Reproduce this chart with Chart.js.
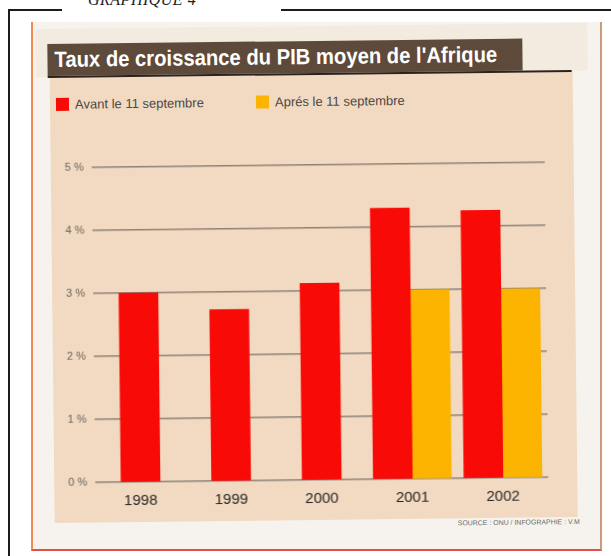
<!DOCTYPE html>
<html lang="fr">
<head>
<meta charset="utf-8">
<title>Taux de croissance du PIB moyen de l'Afrique</title>
<script src="https://cdn.jsdelivr.net/npm/chart.js@4/dist/chart.umd.min.js"></script>
<style>
  html, body { margin: 0; padding: 0; background: #ffffff; }
  body { width: 611px; height: 556px; position: relative; overflow: hidden; font-family: "Liberation Sans", Arial, sans-serif; }
  .frame-top { position: absolute; top: 9px; height: 2px; background: #1c1c1c; }
  .frame-left { position: absolute; left: 8px; top: 9px; width: 2px; height: 547px; background: #1c1c1c; }
  #kicker { position: absolute; left: 88px; top: -9px; font: italic 16px "Liberation Serif", serif; color: #222; letter-spacing: 0.5px; }
  #paper { position: absolute; left: 31px; top: 22px; width: 567px; height: 527px; background: #f6f3ee;
           border-left: 2px solid #ee8a52; border-right: 2px solid #c99c7c; border-bottom: 2px solid #e0504a; }
  #scan { position: absolute; left: 0; top: 0; width: 611px; height: 556px; transform: rotate(-0.65deg); transform-origin: 312px 280px; }
  #topband { position: absolute; left: 38px; top: 26px; width: 552px; height: 48px; background: #f3ebe0; }
  #panel { position: absolute; left: 52px; top: 74px; width: 523px; height: 446px; background: #f1dac1; }
  #titlebox { position: absolute; left: 50px; top: 41px; width: 475px; height: 32px; background: #5e4a3a; }
  #rule { position: absolute; left: 50px; top: 73px; width: 524px; height: 2px; background: #2a221e; }
  #title { position: absolute; left: 57px; top: 44px; color: #ffffff; font-weight: bold; font-size: 22px; white-space: nowrap; transform-origin: left center; }
  #legend { position: absolute; left: 58px; top: 94px; height: 16px; }
  .leg-item { position: absolute; top: 0; white-space: nowrap; font-size: 13px; color: #4e4844; line-height: 15px; }
  .leg-box { display: inline-block; width: 13px; height: 13px; vertical-align: -2px; margin-right: 6px; }
  #chartWrap { position: absolute; left: 52px; top: 130px; width: 523px; height: 390px; }
  #source { position: absolute; left: 455px; top: 521px; font-size: 7px; color: #6a6a6a; white-space: nowrap; transform-origin: left center; }
</style>
</head>
<body>
<div class="frame-top" style="left:8px; width:54px;"></div>
<div class="frame-top" style="left:281px; width:330px;"></div>
<div class="frame-left"></div>
<div id="kicker">GRAPHIQUE 4</div>
<div id="paper"></div>

<div id="scan">
  <div id="topband"></div>
  <div id="panel"></div>
  <div id="titlebox"></div>
  <div id="rule"></div>
  <div id="title">Taux de croissance du PIB moyen de l'Afrique</div>
  <div id="legend"></div>
  <div id="chartWrap"><canvas id="pibChart" width="523" height="390"></canvas></div>
  <div id="source">SOURCE : ONU / INFOGRAPHIE : V.M</div>
</div>

<script>
// growth rate, % per year
const years = ["1998", "1999", "2000", "2001", "2002"];
const beforeSept11 = [3.0, 2.72, 3.12, 4.3, 4.25];
const afterSept11 = [null, null, null, 3.0, 3.0];
const yTicks = [0, 1, 2, 3, 4, 5];

const seriesNames = ["Avant le 11 septembre", "Aprés le 11 septembre"];
const seriesColors = ["#f80a06", "#fcb400"];

const sans = "'Liberation Sans', Arial, sans-serif";

function fitWidth(el, target) {
    const w = el.getBoundingClientRect().width;
    if (w > 0) el.style.transform = "scaleX(" + (target / w) + ")";
}

document.addEventListener("DOMContentLoaded", () => {
    fitWidth(document.getElementById("title"), 443);
    fitWidth(document.getElementById("source"), 122);

    const ctx = document.getElementById("pibChart").getContext("2d");
    const chart = new Chart(ctx, {
        type: "bar",
        data: {
            labels: years,
            datasets: [
                { label: seriesNames[0], data: beforeSept11, backgroundColor: seriesColors[0] },
                { label: seriesNames[1], data: afterSept11, backgroundColor: seriesColors[1] }
            ]
        },
        options: {
            responsive: false,
            animation: false,
            layout: { padding: { top: 35, right: 29, left: 0, bottom: 0 } },
            datasets: {
                bar: { barThickness: 39, skipNull: true, borderWidth: 0 }
            },
            plugins: {
                legend: { display: false },
                tooltip: { enabled: false }
            },
            scales: {
                x: {
                    grid: { display: false, drawTicks: false },
                    border: { display: false },
                    ticks: { color: "#2a2624", padding: 10, font: { family: sans, size: 15 } },
                    afterFit: scale => { scale.height = 40; }
                },
                y: {
                    min: 0,
                    max: 5,
                    afterBuildTicks: scale => { scale.ticks = yTicks.map(v => ({ value: v })); },
                    grid: { color: "#8d8178", lineWidth: 1.4, drawTicks: false },
                    border: { display: false },
                    ticks: {
                        color: "#6a635d",
                        padding: 8,
                        font: { family: sans, size: 11 },
                        callback: v => v + " %"
                    },
                    afterFit: scale => { scale.width = 41; }
                }
            }
        }
    });

    // legend built from the chart's own datasets
    const legend = document.getElementById("legend");
    const offsets = [0, 200];
    chart.data.datasets.forEach((ds, i) => {
        const item = document.createElement("div");
        item.className = "leg-item";
        item.style.left = offsets[i] + "px";
        item.innerHTML = '<span class="leg-box" style="background:' + ds.backgroundColor + '"></span>' + ds.label;
        legend.appendChild(item);
    });
});
</script>
</body>
</html>
